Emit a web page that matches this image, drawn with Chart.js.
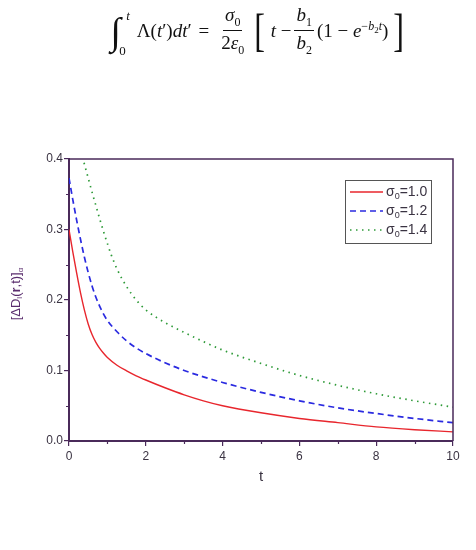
<!DOCTYPE html>
<html>
<head>
<meta charset="utf-8">
<script src="https://cdn.jsdelivr.net/npm/chart.js@4.4.0/dist/chart.umd.min.js"></script>
<style>
  html, body { margin:0; padding:0; background:#fff; }
  #wrap { position:relative; width:476px; height:550px; }
  #c { position:absolute; left:0; top:0; }
  #formula { position:absolute; left:22px; top:5px; width:476px; text-align:center;
    font-family:"Liberation Serif","DejaVu Serif",serif; font-size:19px; color:#111; white-space:nowrap; }
  .f { display:inline-flex; align-items:center; }
  .frac { display:inline-flex; flex-direction:column; align-items:center; vertical-align:middle; margin:0 3px; }
  .frac .n { padding:0 2px 2px; border-bottom:1px solid #111; line-height:1.05; }
  .frac .d { padding:2px 2px 0; line-height:1.05; }
  i { font-style:italic; }
  sub, sup { font-size:12px; }
  .int { font-size:38px; line-height:1; position:relative; margin-right:16px; }
  .int .up { position:absolute; font-size:13px; left:16px; top:-3px; font-style:italic; }
  .int .lo { position:absolute; font-size:13px; left:9px; bottom:-7px; }
  .br { font-size:46px; line-height:1; font-weight:200; transform:scaleX(0.7); display:inline-block; margin:0 3px; }
  .eq { margin:0 7px; }
</style>
</head>
<body>
<div id="wrap">
<canvas id="c" width="476" height="550"></canvas>
<div id="formula"><span class="f">
  <span class="int">∫<span class="up">t</span><span class="lo">0</span></span>
  <span>Λ(<i>t</i>′)<i>dt</i>′</span><span class="eq">=</span>
  <span class="frac"><span class="n"><i>σ</i><sub>0</sub></span><span class="d">2<i>ε</i><sub>0</sub></span></span>
  <span class="br">[</span>
  <span><i>t</i> − </span>
  <span class="frac"><span class="n"><i>b</i><sub>1</sub></span><span class="d"><i>b</i><sub>2</sub></span></span>
  <span>(1 − <i>e</i><sup>−<i>b</i><sub style="font-size:9px">2</sub><i>t</i></sup>)</span>
  <span class="br">]</span>
</span></div>
</div>
<script>
// ---- data ----
const tGrid   = [0, 0.1, 0.2, 0.3, 0.4, 0.5, 0.6, 0.7, 0.8, 0.9, 1.0, 1.25, 1.5, 1.75, 2, 2.5, 3, 3.5, 4, 5, 6, 7, 8, 9, 10];
const sigma10 = [0.300, 0.268, 0.238, 0.210, 0.186, 0.166, 0.151, 0.140, 0.1315, 0.1245, 0.1185, 0.1075, 0.0995, 0.0925, 0.0865, 0.0755, 0.0655, 0.057, 0.050, 0.040, 0.032, 0.026, 0.020, 0.016, 0.013];
const sigma12 = [0.373, 0.342, 0.313, 0.286, 0.261, 0.239, 0.220, 0.204, 0.191, 0.180, 0.171, 0.155, 0.142, 0.132, 0.124, 0.111, 0.100, 0.091, 0.083, 0.069, 0.057, 0.047, 0.039, 0.032, 0.026];
const tGreen  = [0.2, 0.3, 0.4, 0.5, 0.6, 0.7, 0.8, 0.9, 1.0, 1.1, 1.25, 1.5, 1.75, 2, 2.5, 3, 3.5, 4, 5, 6, 7, 8, 9, 10];
const sigma14 = [0.436, 0.414, 0.393, 0.373, 0.353, 0.334, 0.315, 0.297, 0.280, 0.264, 0.244, 0.219, 0.200, 0.186, 0.168, 0.154, 0.141, 0.129, 0.110, 0.093, 0.079, 0.067, 0.057, 0.048];
const seriesLabels = ["1.0", "1.2", "1.4"];
const xTicks = [0, 2, 4, 6, 8, 10];
const yTicks = [0.0, 0.1, 0.2, 0.3, 0.4];

const AXIS = "#4a2a5a";
const TXT = "#3a3342";
const FONT = '"Liberation Sans", Arial, sans-serif';
const pts = (xs, ys) => xs.map((x, i) => ({x, y: ys[i]}));

const frame = {
  id: 'frame',
  afterDraw(chart) {
    const {ctx, chartArea: a, scales} = chart;
    ctx.save();
    ctx.strokeStyle = AXIS;
    ctx.lineWidth = 1.5;
    ctx.beginPath();
    ctx.moveTo(a.left, a.top); ctx.lineTo(a.right, a.top); ctx.lineTo(a.right, a.bottom);
    ctx.stroke();
    ctx.lineWidth = 1.2;
    ctx.beginPath();
    for (let i = 0; i < xTicks.length - 1; i++) {
      const v = (xTicks[i] + xTicks[i+1]) / 2;
      const px = Math.round(scales.x.getPixelForValue(v)) + 0.5;
      ctx.moveTo(px, a.bottom); ctx.lineTo(px, a.bottom + 3);
    }
    for (let i = 0; i < yTicks.length - 1; i++) {
      const v = (yTicks[i] + yTicks[i+1]) / 2;
      const py = Math.round(scales.y.getPixelForValue(v)) + 0.5;
      ctx.moveTo(a.left, py); ctx.lineTo(a.left - 3, py);
    }
    ctx.stroke();

    // legend
    const lx = 345, ly = 180, lw = 86, lh = 63;
    ctx.fillStyle = '#fff';
    ctx.fillRect(lx, ly, lw, lh);
    ctx.strokeStyle = '#555';
    ctx.lineWidth = 1;
    ctx.strokeRect(lx + 0.5, ly + 0.5, lw, lh);
    chart.data.datasets.forEach((ds, i) => {
      const yy = ly + 12 + i * 19;
      ctx.save();
      ctx.strokeStyle = ds.borderColor;
      ctx.lineWidth = ds.borderWidth;
      ctx.setLineDash(ds.borderDash || []);
      ctx.beginPath(); ctx.moveTo(lx + 5, yy); ctx.lineTo(lx + 38, yy); ctx.stroke();
      ctx.restore();
      ctx.fillStyle = TXT;
      ctx.textBaseline = 'middle';
      ctx.textAlign = 'left';
      ctx.font = '14px ' + FONT;
      ctx.fillText('σ', lx + 41, yy);
      const w1 = ctx.measureText('σ').width;
      ctx.font = '9px ' + FONT;
      ctx.fillText('0', lx + 41 + w1, yy + 5);
      const w2 = ctx.measureText('0').width;
      ctx.font = '14px ' + FONT;
      ctx.fillText('=' + seriesLabels[i], lx + 41 + w1 + w2, yy);
    });

    // x title
    ctx.fillStyle = TXT;
    ctx.font = '15px ' + FONT;
    ctx.textAlign = 'center';
    ctx.textBaseline = 'middle';
    ctx.fillText('t', (a.left + a.right) / 2, 477);

    // y title
    ctx.save();
    ctx.translate(16, (a.top + a.bottom) / 2 - 6);
    ctx.rotate(-Math.PI / 2);
    ctx.fillStyle = '#5a2d6e';
    ctx.textBaseline = 'middle';
    const parts = [
      ['[ΔD', '13px', 0], ['l', '8px', 4], ['(', '13px', 0], ['r', 'bold 13px', 0],
      [',t)]', '13px', 0], ['α', '8px', 5]
    ];
    let total = 0;
    parts.forEach(p => { ctx.font = p[1] + ' ' + FONT; total += ctx.measureText(p[0]).width; });
    let xx = -total / 2;
    ctx.textAlign = 'left';
    parts.forEach(p => {
      ctx.font = p[1] + ' ' + FONT;
      ctx.fillText(p[0], xx, p[2]);
      xx += ctx.measureText(p[0]).width;
    });
    ctx.restore();
    ctx.restore();
  }
};

new Chart(document.getElementById('c'), {
  type: 'line',
  data: {
    datasets: [
      { label: 'σ0=1.0', data: pts(tGrid, sigma10), borderColor: '#e8262d', borderWidth: 1.4 },
      { label: 'σ0=1.2', data: pts(tGrid, sigma12), borderColor: '#2a2ae0', borderWidth: 1.7, borderDash: [6, 4] },
      { label: 'σ0=1.4', data: pts(tGreen, sigma14), borderColor: '#2e9a38', borderWidth: 1.7, borderDash: [1.5, 4.5] }
    ]
  },
  options: {
    responsive: false,
    animation: false,
    devicePixelRatio: 1,
    layout: { padding: { top: 159, right: 23, left: 0, bottom: 0 } },
    elements: { point: { radius: 0 }, line: { cubicInterpolationMode: 'monotone', fill: false } },
    plugins: { legend: { display: false }, tooltip: { enabled: false } },
    scales: {
      x: {
        type: 'linear', min: 0, max: 10,
        afterFit: s => { s.height = 109; },
        afterBuildTicks: s => { s.ticks = xTicks.map(v => ({value: v})); },
        ticks: { color: TXT, font: { family: FONT, size: 12 }, padding: 3, maxRotation: 0,
          callback: v => String(v) },
        grid: { display: true, drawOnChartArea: false, drawTicks: true, tickLength: 5, color: AXIS, lineWidth: 1.2 },
        border: { display: true, color: AXIS, width: 2 }
      },
      y: {
        type: 'linear', min: 0, max: 0.4,
        afterFit: s => { s.width = 69; },
        afterBuildTicks: s => { s.ticks = yTicks.map(v => ({value: v})); },
        ticks: { color: TXT, font: { family: FONT, size: 12 }, padding: 1,
          callback: v => Number(v).toFixed(1) },
        grid: { display: true, drawOnChartArea: false, drawTicks: true, tickLength: 5, color: AXIS, lineWidth: 1.2 },
        border: { display: true, color: AXIS, width: 2 }
      }
    }
  },
  plugins: [frame]
});
</script>
</body>
</html>
